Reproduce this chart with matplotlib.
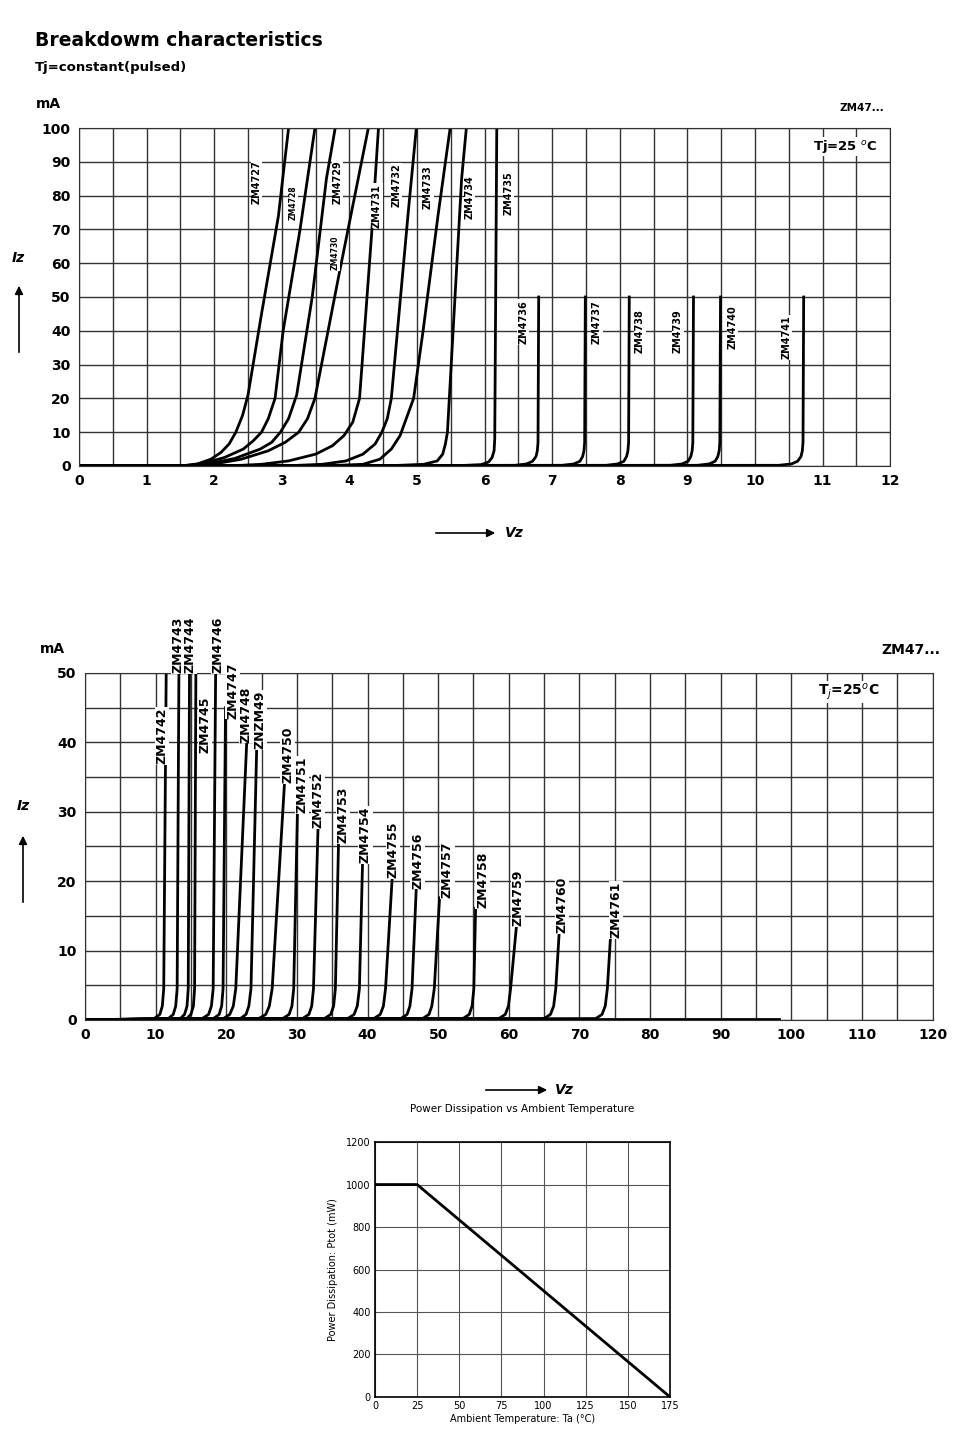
import matplotlib.pyplot as plt

# ---- top chart: ZM4727..ZM4741 (V, mA) ----
top_curves = {
    "ZM4727": ([0, 1.5, 1.75, 1.95, 2.1, 2.22, 2.32, 2.42, 2.5, 2.7, 2.95, 3.1],
               [0, 0, 0.6, 2, 4, 6.5, 10, 15, 21, 45, 74, 100]),
    "ZM4728": ([0, 1.55, 1.85, 2.15, 2.43, 2.58, 2.7, 2.8, 2.9, 3.02, 3.27, 3.49],
               [0, 0, 0.8, 2.5, 5, 7.5, 10, 14, 20, 40, 70, 100]),
    "ZM4729": ([0, 1.55, 1.9, 2.3, 2.68, 2.85, 2.98, 3.1, 3.22, 3.45, 3.66, 3.79],
               [0, 0, 0.6, 2.2, 5, 7, 10, 14, 21, 50, 85, 100]),
    "ZM4730": ([0, 1.6, 2.0, 2.4, 2.8, 3.05, 3.25, 3.38, 3.49, 3.84, 4.28],
               [0, 0, 0.6, 2, 4.5, 7, 10, 14, 20, 56, 100]),
    "ZM4731": ([0, 2.2, 2.7, 3.1, 3.5, 3.75, 3.92, 4.05, 4.15, 4.33, 4.43],
               [0, 0, 0.5, 1.5, 3.5, 6, 9, 13, 20, 69, 100]),
    "ZM4732": ([0, 3.0, 3.6, 3.95, 4.2, 4.38, 4.48, 4.56, 4.62, 4.87, 4.99],
               [0, 0, 0.5, 1.5, 3.5, 6.5, 10, 14, 20, 75, 100]),
    "ZM4733": ([0, 3.6, 4.2, 4.45, 4.62, 4.75, 4.95, 5.09, 5.31, 5.49],
               [0, 0, 0.5, 2, 5, 9, 20, 40, 74, 100]),
    "ZM4734": ([0, 4.5, 5.1, 5.3, 5.38, 5.42, 5.45, 5.66, 5.73],
               [0, 0, 0.5, 1.5, 3.5, 6.5, 10, 85, 100]),
    "ZM4735": ([0, 5.5, 5.95, 6.06, 6.11, 6.14, 6.15, 6.18],
               [0, 0, 0.4, 1.2, 2.5, 4.5, 8, 100]),
    "ZM4736": ([0, 6.45, 6.62, 6.71, 6.76, 6.78, 6.79, 6.8], [0, 0.2, 0.6, 1.4, 2.8, 4.5, 7, 50]),
    "ZM4737": ([0, 7.15, 7.32, 7.41, 7.45, 7.47, 7.48, 7.49], [0, 0.2, 0.6, 1.4, 2.8, 4.5, 7, 50]),
    "ZM4738": ([0, 7.8, 7.97, 8.06, 8.1, 8.12, 8.13, 8.14], [0, 0.2, 0.6, 1.4, 2.8, 4.5, 7, 50]),
    "ZM4739": ([0, 8.75, 8.92, 9.01, 9.05, 9.07, 9.08, 9.09], [0, 0.2, 0.6, 1.4, 2.8, 4.5, 7, 50]),
    "ZM4740": ([0, 9.15, 9.32, 9.41, 9.45, 9.47, 9.48, 9.49], [0, 0.2, 0.6, 1.4, 2.8, 4.5, 7, 50]),
    "ZM4741": ([0, 10.35, 10.54, 10.63, 10.68, 10.7, 10.71, 10.72], [0, 0.2, 0.6, 1.4, 2.8, 4.5, 7, 50]),
}
top_labels = {
    "ZM4727": (2.63, 84, 7), "ZM4728": (3.17, 78, 5.5), "ZM4729": (3.82, 84, 7),
    "ZM4730": (3.79, 63, 5.5), "ZM4731": (4.41, 77, 7), "ZM4732": (4.70, 83, 7),
    "ZM4733": (5.16, 82.5, 7), "ZM4734": (5.78, 79.6, 7), "ZM4735": (6.35, 80.8, 7),
    "ZM4736": (6.57, 42.6, 7), "ZM4737": (7.66, 42.6, 7), "ZM4738": (8.30, 40, 7),
    "ZM4739": (8.86, 40, 7), "ZM4740": (9.67, 41, 7), "ZM4741": (10.47, 38, 7),
}

# ---- middle chart: ZM4742..ZM4761 ----
mid_curves = {
    "ZM4742": ([0, 9.8, 10.6, 10.95, 11.15, 11.5], [0, 0.2, 0.8, 2, 4.5, 50]),
    "ZM4743": ([0, 11.8, 12.5, 12.85, 13.05, 13.3], [0, 0.2, 0.8, 2, 4.5, 50]),
    "ZM4744": ([0, 13.5, 14.1, 14.45, 14.62, 14.8], [0, 0.2, 0.8, 2, 4.5, 50]),
    "ZM4745": ([0, 14.4, 15.0, 15.35, 15.52, 15.7], [0, 0.2, 0.8, 2, 4.5, 50]),
    "ZM4746": ([0, 16.6, 17.5, 17.9, 18.15, 18.5], [0, 0.2, 0.8, 2, 4.5, 45 + 5]),
    "ZM4747": ([0, 18.2, 19.0, 19.35, 19.55, 19.9], [0, 0.2, 0.8, 2, 4.5, 45]),
    "ZM4748": ([0, 19.6, 20.5, 21.0, 21.35, 22.9], [0, 0.2, 0.8, 2, 4.5, 40]),
    "ZM4749": ([0, 22.0, 22.8, 23.2, 23.5, 24.3], [0, 0.2, 0.8, 2, 4.5, 38.7]),
    "ZM4750": ([0, 24.6, 25.6, 26.1, 26.5, 28.3], [0, 0.2, 0.8, 2, 4.5, 35]),
    "ZM4751": ([0, 28.0, 28.9, 29.3, 29.55, 30.1], [0, 0.2, 0.8, 2, 4.5, 31]),
    "ZM4752": ([0, 30.8, 31.7, 32.1, 32.35, 33.0], [0, 0.2, 0.8, 2, 4.5, 27.9]),
    "ZM4753": ([0, 33.9, 34.8, 35.2, 35.45, 35.9], [0, 0.2, 0.8, 2, 4.5, 25.7]),
    "ZM4754": ([0, 37.2, 38.1, 38.55, 38.85, 39.3], [0, 0.2, 0.8, 2, 4.5, 22.8]),
    "ZM4755": ([0, 40.9, 41.8, 42.25, 42.55, 43.5], [0, 0.2, 0.8, 2, 4.5, 20.6]),
    "ZM4756": ([0, 44.7, 45.6, 46.0, 46.3, 46.9], [0, 0.2, 0.8, 2, 4.5, 19]),
    "ZM4757": ([0, 47.8, 48.7, 49.1, 49.45, 50.2], [0, 0.2, 0.8, 2, 4.5, 17.6]),
    "ZM4758": ([0, 53.5, 54.4, 54.8, 55.05, 55.3], [0, 0.2, 0.8, 2, 4.5, 16.1]),
    "ZM4759": ([0, 58.6, 59.5, 59.95, 60.25, 61.1], [0, 0.2, 0.8, 2, 4.5, 13.7]),
    "ZM4760": ([0, 65.0, 65.9, 66.35, 66.65, 67.2], [0, 0.2, 0.8, 2, 4.5, 13.7]),
    "ZM4761": ([0, 72.3, 73.2, 73.65, 73.95, 74.4], [0, 0.2, 0.8, 2, 4.5, 12]),
}
mid_baseline = ([0, 98.3], [0.1, 0.1])
mid_labels = {
    "ZM4742": (10.9, 40.9), "ZM4743": (13.2, 54), "ZM4744": (14.9, 54), "ZM4745": (17.0, 42.5),
    "ZM4746": (18.8, 54), "ZM4747": (20.9, 47.5), "ZM4748": (22.8, 44), "ZNZM49": (24.8, 43.2),
    "ZM4750": (28.7, 38.2), "ZM4751": (30.7, 33.9), "ZM4752": (33.0, 31.7), "ZM4753": (36.5, 29.5),
    "ZM4754": (39.7, 26.7), "ZM4755": (43.6, 24.5), "ZM4756": (47.1, 23.0), "ZM4757": (51.3, 21.6),
    "ZM4758": (56.3, 20.2), "ZM4759": (61.3, 17.6), "ZM4760": (67.5, 16.6), "ZM4761": (75.2, 15.9),
}

# ---- bottom chart: derating ----
temp = [0, 25, 175]
ptot = [1000, 1000, 0]

fig = plt.figure(figsize=(9.6, 14.4), dpi=100)
BOX = dict(facecolor="white", edgecolor="none", pad=0.5)


def grid_axes(ax, xlim, ylim, xgrid, ygrid):
    ax.set_xlim(*xlim)
    ax.set_ylim(*ylim)
    for x in xgrid:
        ax.axvline(x, color="#333333", lw=1.0, zorder=1)
    for y in ygrid:
        ax.axhline(y, color="#333333", lw=1.0, zorder=1)
    for s in ax.spines.values():
        s.set_color("#333333")
    ax.tick_params(length=0, pad=6)
    for t in ax.get_xticklabels() + ax.get_yticklabels():
        t.set_fontweight("bold")
        t.set_fontsize(10)


arrow = dict(arrowstyle="-|>", color="black", lw=1.2, mutation_scale=12)

# top
ax1 = fig.add_axes([0.0823, 0.6764, 0.845, 0.2347])
ax1.set_xticks(range(0, 13))
ax1.set_yticks(range(0, 101, 10))
grid_axes(ax1, (0, 12), (0, 100), [i * 0.5 for i in range(25)], range(0, 101, 10))
for name, (v, i) in top_curves.items():
    ax1.plot(v, i, color="black", lw=2, zorder=2, solid_joinstyle="round")
for name, (x, y, fs) in top_labels.items():
    ax1.text(x, y, name, rotation=90, ha="center", va="center", fontsize=fs,
             fontweight="bold", bbox=BOX, zorder=3)
ax1.text(0.905, 0.945, "Tj=25 $^o$C", transform=ax1.transAxes, fontsize=9.5,
         fontweight="bold", ha="left", va="center", bbox=BOX, zorder=4)

fig.text(35 / 960, 1 - 41 / 1440, "Breakdowm characteristics", fontsize=13.5,
         fontweight="bold", va="center")
fig.text(35 / 960, 1 - 67 / 1440, "Tj=constant(pulsed)", fontsize=9.5,
         fontweight="bold", va="center")
fig.text(36 / 960, 1 - 104 / 1440, "mA", fontsize=10, fontweight="bold", va="center")
fig.text(840 / 960, 1 - 108 / 1440, "ZM47...", fontsize=7.5, fontweight="bold", va="center")
fig.text(12 / 960, 1 - 258 / 1440, "Iz", fontsize=10, fontstyle="italic",
         fontweight="bold", va="center")
fig.text(505 / 960, 1 - 533 / 1440, "Vz", fontsize=10, fontstyle="italic",
         fontweight="bold", va="center")
plt.annotate("", xy=(19 / 960, 1 - 283 / 1440), xytext=(19 / 960, 1 - 355 / 1440),
             xycoords="figure fraction", arrowprops=arrow)
plt.annotate("", xy=(498 / 960, 1 - 533 / 1440), xytext=(433 / 960, 1 - 533 / 1440),
             xycoords="figure fraction", arrowprops=arrow)

# middle
ax2 = fig.add_axes([0.0885, 0.2917, 0.883, 0.241])
ax2.set_xticks(range(0, 121, 10))
ax2.set_yticks(range(0, 51, 10))
grid_axes(ax2, (0, 120), (0, 50), range(0, 121, 5), range(0, 51, 5))
ax2.plot(*mid_baseline, color="black", lw=2, zorder=2)
for name, (v, i) in mid_curves.items():
    ax2.plot(v, i, color="black", lw=2, zorder=2, solid_joinstyle="round")
for name, (x, y) in mid_labels.items():
    ax2.text(x, y, name, rotation=90, ha="center", va="center", fontsize=9,
             fontweight="bold", bbox=BOX, zorder=3, clip_on=False)
ax2.text(0.865, 0.945, "T$_j$=25$^o$C", transform=ax2.transAxes, fontsize=10,
         fontweight="bold", ha="left", va="center", bbox=BOX, zorder=4)
fig.text(40 / 960, 1 - 649 / 1440, "mA", fontsize=10, fontweight="bold", va="center")
fig.text(940 / 960, 1 - 650 / 1440, "ZM47...", fontsize=10, fontweight="bold",
         va="center", ha="right")
fig.text(17 / 960, 1 - 806 / 1440, "Iz", fontsize=10, fontstyle="italic",
         fontweight="bold", va="center")
fig.text(555 / 960, 1 - 1090 / 1440, "Vz", fontsize=10, fontstyle="italic",
         fontweight="bold", va="center")
plt.annotate("", xy=(23 / 960, 1 - 833 / 1440), xytext=(23 / 960, 1 - 905 / 1440),
             xycoords="figure fraction", arrowprops=arrow)
plt.annotate("", xy=(550 / 960, 1 - 1090 / 1440), xytext=(483 / 960, 1 - 1090 / 1440),
             xycoords="figure fraction", arrowprops=arrow)

# bottom
ax3 = fig.add_axes([0.3906, 0.0299, 0.3073, 0.177])
ax3.set_xlim(0, 175)
ax3.set_ylim(0, 1200)
ax3.set_xticks(range(0, 176, 25))
ax3.set_yticks(range(0, 1201, 200))
ax3.grid(True, color="#555555", lw=0.8)
ax3.tick_params(labelsize=7, length=0, pad=3)
ax3.plot(temp, ptot, color="black", lw=2)
for s in ax3.spines.values():
    s.set_linewidth(1.2)
ax3.set_title("Power Dissipation vs Ambient Temperature", fontsize=7.5, pad=22)
ax3.set_xlabel("Ambient Temperature: Ta (\u00b0C)", fontsize=7, labelpad=2)
ax3.set_ylabel("Power Dissipation: Ptot (mW)", fontsize=7, labelpad=6)

fig.savefig("out.png", dpi=100)
